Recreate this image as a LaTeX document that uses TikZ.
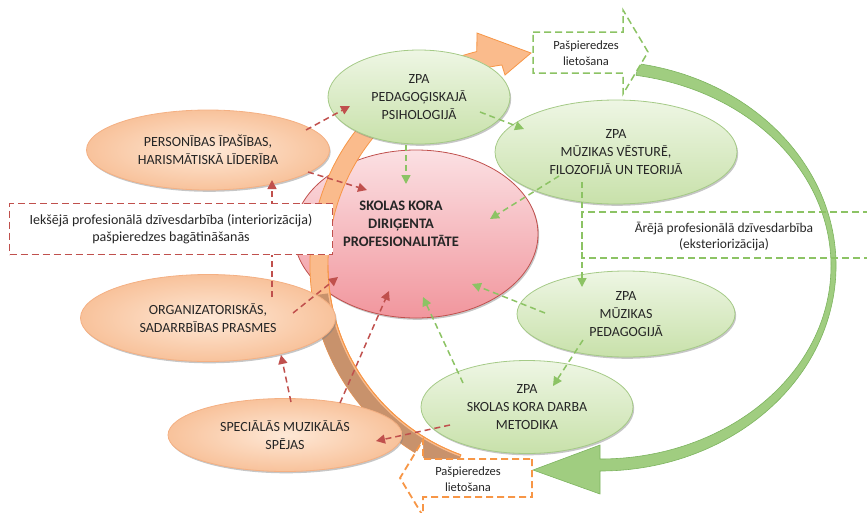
\documentclass[tikz,border=0pt]{standalone}
\usepackage{fontspec}
\setmainfont{Carlito}
\usetikzlibrary{shapes.geometric,positioning,calc,arrows.meta,shadows}

\definecolor{grFillA}{RGB}{238,246,228}
\definecolor{grFillB}{RGB}{200,225,170}
\definecolor{grEdge}{RGB}{165,202,135}
\definecolor{orFillA}{RGB}{254,232,214}
\definecolor{orFillB}{RGB}{248,194,155}
\definecolor{orEdge}{RGB}{244,176,131}
\definecolor{rdFillA}{RGB}{251,224,227}
\definecolor{rdFillB}{RGB}{241,150,157}
\definecolor{rdEdge}{RGB}{192,80,77}
\definecolor{rdLine}{RGB}{192,80,77}
\definecolor{grLine}{RGB}{140,195,100}
\definecolor{orLine}{RGB}{247,150,70}
\definecolor{bandOr}{RGB}{250,187,140}
\definecolor{bandBr}{RGB}{200,146,108}
\definecolor{bandGr}{RGB}{160,205,128}
\definecolor{bandGrD}{RGB}{125,180,95}
\definecolor{txt}{RGB}{38,38,38}

\begin{document}
\begin{tikzpicture}[x=1pt,y=-1pt,
    ell/.style={ellipse, inner sep=0pt, align=center, text=txt,
        font=\fontsize{14}{18}\selectfont,
        drop shadow={shadow xshift=1.2pt, shadow yshift=-1.8pt, fill=black!50, opacity=.45}},
    grell/.style={ell, draw=grEdge, line width=.8pt, top color=grFillA, bottom color=grFillB},
    orell/.style={ell, draw=orEdge, line width=.8pt, inner color=orFillA, outer color=orFillB},
    cenell/.style={ell, draw=rdEdge, line width=.8pt, top color=rdFillA, bottom color=rdFillB},
    redcon/.style={rdLine, line width=1.5pt, dash pattern=on 6pt off 4pt, -{Triangle[length=9pt,width=9pt]}},
    grcon/.style={grLine, line width=1.5pt, dash pattern=on 6pt off 4pt, -{Triangle[length=9pt,width=9pt]}},
    boxtext/.style={align=center, text=txt, font=\fontsize{14}{17}\selectfont},
    smalltext/.style={align=center, text=txt, font=\fontsize{12.5}{16}\selectfont}]
    \useasboundingbox (0,0) rectangle (867,512);

    % green circular arrow (outside, right)
    \fill[bandGr, draw=bandGrD, line width=.6pt] ($(600,266)+(-81:236 and 205)$) arc[start angle=-81, end angle=90, x radius=236, y radius=205]
        -- (600,494) -- (533,470) -- (600,445) -- ($(600,266)+(90:231 and 193)$)
        arc[start angle=90, end angle=-81, x radius=231, y radius=193] -- cycle;

    % central ellipse
    \node[cenell, minimum width=244pt, minimum height=168pt,
        label={[xshift=-15pt, yshift=10pt, boxtext, font=\fontsize{14.5}{18}\selectfont\bfseries]center:SKOLAS KORA\\DIRIĢENTA\\PROFESIONALITĀTE}]
        (cen) at (416,234) {};

    % orange circular arrow (inside, left)
    \fill[bandOr, draw=orLine, line width=.8pt] ($(530,265)+(110:220)$) arc[start angle=110, end angle=256, radius=220]
        -- (477,33) -- (531,53) -- (505,75) -- ($(530,265)+(262:202)$)
        arc[start angle=262, end angle=110, radius=202] -- cycle;
    \fill[bandBr] ($(530,265)+(110:220)$) arc[start angle=110, end angle=172, radius=220]
        -- ($(530,265)+(172:204)$) arc[start angle=172, end angle=110, radius=204] -- cycle;
    \draw[orLine, line width=.8pt] ($(530,265)+(110:202)$) arc[start angle=110, end angle=180, radius=202];

    % satellites
    \node[grell, minimum width=182pt, minimum height=94pt] (ped) at (419,97) {ZPA\\PEDAGOĢISKAJĀ\\PSIHOLOGIJĀ};
    \node[grell, minimum width=242pt, minimum height=104pt] (vest) at (616,152) {ZPA\\MŪZIKAS VĒSTURĒ,\\FILOZOFIJĀ UN TEORIJĀ};
    \node[grell, minimum width=218pt, minimum height=86pt] (mped) at (626,314) {ZPA\\MŪZIKAS\\PEDAGOGIJĀ};
    \node[grell, minimum width=212pt, minimum height=93pt] (met) at (527,407) {ZPA\\SKOLAS KORA DARBA\\METODIKA};
    \node[orell, minimum width=243pt, minimum height=80pt] (pers) at (208,150) {PERSONĪBAS ĪPAŠĪBAS,\\HARISMĀTISKĀ LĪDERĪBA};
    \node[orell, minimum width=255pt, minimum height=87pt] (org) at (208,318) {ORGANIZATORISKĀS,\\SADARRBĪBAS PRASMES};
    \node[orell, minimum width=234pt, minimum height=73pt] (spec) at (285,435) {SPECIĀLĀS MUZIKĀLĀS\\SPĒJAS};

    % connectors
    \foreach \s/\sx/\sy/\t/\tx/\ty in {pers/98/-20/ped/-69/9, pers/100/22/cen/-49/-44, org/64/-21/pers/64/30,
        org/85/-5/cen/-78/43, spec/6/-33/org/73/37, spec/55/-32/cen/-27/57, met/-77/18/spec/91/6}
        \draw[redcon] ($(\s)+(\sx,\sy)$) -- ($(\t)+(\tx,\ty)$);
    \foreach \s/\sx/\sy/\t/\tx/\ty in {ped/-13/48/cen/-10/-50, ped/61/15/vest/-92/-23, vest/-57/24/cen/74/-15,
        vest/-34/30/mped/-44/-27, mped/-81/-1/cen/56/50, mped/-43/26/met/26/-21, met/-64/-24/cen/7/63}
        \draw[grcon] ($(\s)+(\sx,\sy)$) -- ($(\t)+(\tx,\ty)$);

    % boxes
    \node[boxtext, draw=rdLine, fill=white, line width=1.5pt, dash pattern=on 7pt off 4pt,
        minimum width=323pt, minimum height=51pt] (ieks) at (171,229)
        {Iekšējā profesionālā dzīvesdarbība (interiorizācija)\\pašpieredzes bagātināšanās};
    \draw[grLine, line width=1.5pt, dash pattern=on 7pt off 4pt] (870,212) -| (582,258) -- (870,258);
    \node[boxtext, font=\fontsize{13.5}{16}\selectfont] (areja) at (724,237) {Ārējā profesionālā dzīvesdarbība\\(eksteriorizācija)};

    \filldraw[fill=white, draw=grLine, line width=1.5pt, dash pattern=on 7pt off 4pt]
        (533,32) -- (623,32) -- (623,10) -- (648,52) -- (623,94) -- (623,73) -- (533,73) -- cycle;
    \node[smalltext] (paspTop) at (586,53) {Pašpieredzes\\lietošana};
    \filldraw[fill=white, draw=orLine, line width=1.8pt, dash pattern=on 7pt off 4pt]
        (532,459) -- (532,497) -- (423,497) -- (423,516) -- (400,478) -- (423,440) -- (423,459) -- cycle;
    \node[smalltext] (paspBot) at (468,479) {Pašpieredzes\\lietošana};
\end{tikzpicture}
\end{document}
